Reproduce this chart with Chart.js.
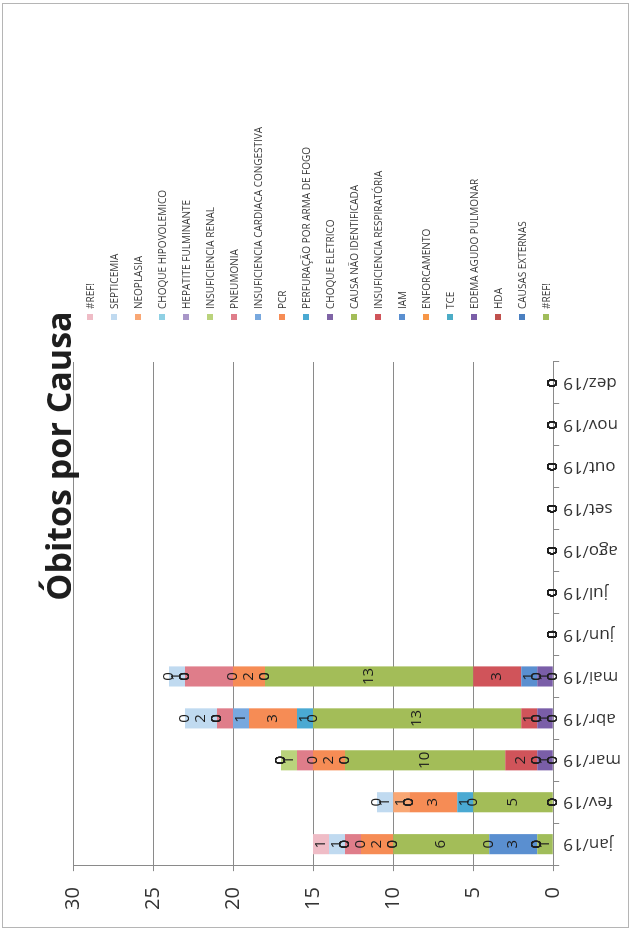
<!DOCTYPE html>
<html lang="pt-BR">
<head>
<meta charset="utf-8">
<title>Óbitos por Causa</title>
<script src="https://cdn.jsdelivr.net/npm/chart.js@4.4.1/dist/chart.umd.min.js"></script>
<style>
	html, body { margin: 0; padding: 0; background: #fff; }
	body { width: 634px; height: 939px; overflow: hidden; position: relative; }
	/* o grafico foi fotografado deitado: desenha em paisagem e gira */
	#quadro { position: absolute; left: 0; top: 0; width: 939px; height: 634px;
		transform-origin: 0 0; transform: translateY(939px) rotate(-90deg);
		font-family: "Open Sans", sans-serif; color: #1e1e1e; }
	#moldura { position: absolute; left: 11px; top: 2px; width: 925px; height: 627px;
		border: 1px solid #b5b5b5; box-sizing: border-box; }
	#grafico { position: absolute; left: 0; top: 0; }
	#titulo { position: absolute; left: 283px; top: 41px; width: 400px; text-align: center;
		font-weight: bold; font-size: 34px; line-height: 34px; }
	#legenda { position: absolute; left: 619px; top: 78px; }
	.item { height: 24px; display: flex; align-items: center; font-size: 10px; color: #404040; white-space: nowrap; }
	.item span { display: inline-block; width: 6px; height: 6px; margin-right: 5px; }
</style>
</head>
<body>
<div id="quadro">
	<div id="moldura"></div>
	<canvas id="grafico" width="939" height="634"></canvas>
	<div id="titulo">Óbitos por Causa</div>
	<div id="legenda"></div>
</div>
<script>
var meses = ['jan/19', 'fev/19', 'mar/19', 'abr/19', 'mai/19', 'jun/19', 'jul/19', 'ago/19', 'set/19', 'out/19', 'nov/19', 'dez/19'];

// series, da base para o topo da pilha
var ref1           = [1, 0, 0, 0, 0, 0, 0, 0, 0, 0, 0, 0];
var causasExternas = [0, 0, 0, 0, 0, 0, 0, 0, 0, 0, 0, 0];
var hda            = [0, 0, 0, 0, 0, 0, 0, 0, 0, 0, 0, 0];
var edema          = [0, 0, 1, 1, 1, 0, 0, 0, 0, 0, 0, 0];
var tce            = [0, 0, 0, 0, 0, 0, 0, 0, 0, 0, 0, 0];
var enforcamento   = [0, 0, 0, 0, 0, 0, 0, 0, 0, 0, 0, 0];
var iam            = [3, 0, 0, 0, 1, 0, 0, 0, 0, 0, 0, 0];
var insufResp      = [0, 0, 2, 1, 3, 0, 0, 0, 0, 0, 0, 0];
var causaNaoIdent  = [6, 5, 10, 13, 13, 0, 0, 0, 0, 0, 0, 0];
var choqueEletrico = [0, 0, 0, 0, 0, 0, 0, 0, 0, 0, 0, 0];
var perfuracao     = [0, 1, 0, 1, 0, 0, 0, 0, 0, 0, 0, 0];
var pcr            = [2, 3, 2, 3, 2, 0, 0, 0, 0, 0, 0, 0];
var icc            = [0, 0, 0, 1, 0, 0, 0, 0, 0, 0, 0, 0];
var pneumonia      = [1, 0, 1, 1, 3, 0, 0, 0, 0, 0, 0, 0];
var insufRenal     = [0, 0, 1, 0, 0, 0, 0, 0, 0, 0, 0, 0];
var hepatite       = [0, 0, 0, 0, 0, 0, 0, 0, 0, 0, 0, 0];
var choqueHipo     = [0, 0, 0, 0, 0, 0, 0, 0, 0, 0, 0, 0];
var neoplasia      = [0, 1, 0, 0, 0, 0, 0, 0, 0, 0, 0, 0];
var septicemia     = [1, 1, 0, 2, 1, 0, 0, 0, 0, 0, 0, 0];
var ref2           = [1, 0, 0, 0, 0, 0, 0, 0, 0, 0, 0, 0];

var causas = ['#REF!', 'CAUSAS EXTERNAS', 'HDA', 'EDEMA AGUDO PULMONAR', 'TCE', 'ENFORCAMENTO', 'IAM',
	'INSUFICIENCIA RESPIRATÓRIA', 'CAUSA NÃO IDENTIFICADA', 'CHOQUE ELETRICO', 'PERFURAÇÃO POR ARMA DE FOGO',
	'PCR', 'INSUFICIENCIA CARDIACA CONGESTIVA', 'PNEUMONIA', 'INSUFICIENCIA RENAL', 'HEPATITE FULMINANTE',
	'CHOQUE HIPOVOLEMICO', 'NEOPLASIA', 'SEPTICEMIA', '#REF!'];

var valores = [ref1, causasExternas, hda, edema, tce, enforcamento, iam, insufResp, causaNaoIdent,
	choqueEletrico, perfuracao, pcr, icc, pneumonia, insufRenal, hepatite, choqueHipo, neoplasia, septicemia, ref2];

var cores = ['#a0bd5a', '#4a7fc0', '#c0504d', '#7a5ea8', '#4bacc6', '#f79646', '#5a8fd0', '#d0545a', '#a3bd58',
	'#7f64a6', '#4aa9d2', '#f68c55', '#78a8de', '#df7d8a', '#bad37c', '#a896c8', '#8fd0e4', '#f9a774', '#c0daf0', '#efbcc6'];

var semRotulo = ['PNEUMONIA'];

var datasets = [];
for (var i = 0; i < causas.length; i++) {
	datasets.push({
		label: causas[i],
		data: valores[i],
		backgroundColor: cores[i],
		borderWidth: 0,
		barPercentage: 0.48,
		categoryPercentage: 1
	});
}

// legenda na ordem da pilha, de cima para baixo
var legenda = document.getElementById('legenda');
for (var k = causas.length - 1; k >= 0; k--) {
	var item = document.createElement('div');
	item.className = 'item';
	var caixa = document.createElement('span');
	caixa.style.background = cores[k];
	item.appendChild(caixa);
	item.appendChild(document.createTextNode(causas[k]));
	legenda.appendChild(item);
}

var rotulos = {
	id: 'rotulos',
	afterDatasetsDraw: function (chart) {
		var c = chart.ctx;
		c.save();
		c.font = '15px "Open Sans"';
		c.fillStyle = '#1e1e1e';
		c.textAlign = 'center';
		c.textBaseline = 'middle';
		chart.data.datasets.forEach(function (ds, i) {
			if (semRotulo.indexOf(ds.label) >= 0) return;
			chart.getDatasetMeta(i).data.forEach(function (bar, j) {
				c.fillText(ds.data[j], bar.x, (bar.y + bar.base) / 2);
			});
		});
		c.restore();
	}
};

var grafico = new Chart(document.getElementById('grafico'), {
	type: 'bar',
	data: { labels: meses, datasets: datasets },
	options: {
		responsive: false,
		animation: false,
		layout: { padding: { left: 13, right: 362, top: 73, bottom: 9 } },
		plugins: {
			legend: { display: false },
			title: { display: false },
			tooltip: { enabled: false }
		},
		scales: {
			x: {
				stacked: true,
				grid: { drawOnChartArea: false, drawTicks: true, tickLength: 6, color: '#8a8a8a', offset: true },
				border: { display: true, color: '#8a8a8a' },
				ticks: { autoSkip: false, minRotation: 90, maxRotation: 90, padding: 4, color: '#333',
					font: { family: 'Open Sans', size: 17 } }
			},
			y: {
				stacked: true,
				min: 0,
				max: 30,
				ticks: { stepSize: 5, padding: 16, color: '#333', font: { family: 'Open Sans', size: 20 } },
				grid: { color: '#8a8a8a', tickLength: 6 },
				border: { display: true, color: '#8a8a8a' }
			}
		}
	},
	plugins: [rotulos]
});
</script>
</body>
</html>
